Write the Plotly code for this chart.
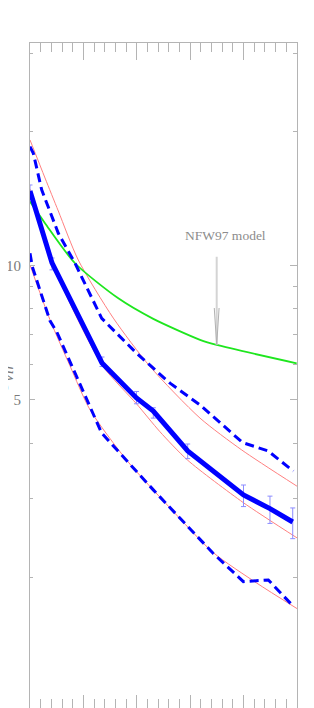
import numpy as np
import plotly.graph_objects as go

# ---------------- data (x = log10 M, y = c_vir) ----------------
med_x = [10.0, 10.412, 11.348, 11.994, 12.309, 12.953, 13.998, 14.494, 14.920]
med_c = [14.72, 10.15, 6.05, 5.05, 4.72, 3.84, 3.06, 2.85, 2.66]
med_hi = [15.18, 10.41, 6.24, 5.22, 4.80, 3.98, 3.22, 3.04, 2.86]
med_lo = [14.27, 9.79, 5.94, 4.90, 4.55, 3.69, 2.88, 2.64, 2.44]

up_x = [10.0, 10.062, 10.219, 10.530, 10.843, 11.343, 11.998, 12.622, 13.184, 13.979, 14.457, 14.931]
up_c = [18.51, 17.89, 14.80, 11.83, 10.13, 7.62, 6.36, 5.45, 4.87, 4.01, 3.84, 3.46]

lo_x = [10.0, 10.043, 10.375, 10.5, 11.343, 12.309, 13.433, 13.996, 14.463, 14.920]
lo_c = [10.67, 9.95, 7.52, 7.11, 4.21, 3.14, 2.26, 1.954, 1.971, 1.726]

mod_up_x = [10.0, 10.281, 10.530, 10.904, 11.560, 12.247, 13.184, 13.964, 15.0]
mod_up_c = [19.16, 15.74, 13.27, 10.30, 7.63, 5.94, 4.55, 3.86, 3.20]

mod_mid_x = [10.0, 10.412, 10.843, 11.373, 11.994, 12.434, 12.953, 13.994, 15.0]
mod_mid_c = [14.87, 10.20, 7.80, 5.93, 4.90, 4.24, 3.66, 2.94, 2.45]

mod_lo_x = [10.0, 10.375, 10.749, 11.124, 11.811, 12.622, 13.433, 14.245, 15.0]
mod_lo_c = [10.04, 7.56, 5.96, 4.75, 3.66, 2.86, 2.27, 1.94, 1.70]

nfw_x = [10.0, 10.281, 10.843, 11.654, 12.309, 13.184, 13.496, 14.994]
nfw_c = [13.93, 12.46, 10.13, 8.45, 7.60, 6.82, 6.64, 6.04]

y_major = [1, 5, 10]
y_major_text = ["1", "5", "10"]
y_minor = [2, 3, 4, 6, 7, 8, 9, 20, 30]

AX = "#b4b4b4"
TXT = "#7a7a7a"
BLUE = "#0000ff"
RED = "#ff8080"
GREEN = "#1ee61e"

fig = go.Figure()

for xs, cs in [(mod_up_x, mod_up_c), (mod_mid_x, mod_mid_c), (mod_lo_x, mod_lo_c)]:
    fig.add_trace(go.Scatter(x=xs, y=cs, mode="lines",
                             line=dict(color=RED, width=1, shape="spline", smoothing=0.7),
                             showlegend=False, hoverinfo="skip"))

fig.add_trace(go.Scatter(x=nfw_x, y=nfw_c, mode="lines",
                         line=dict(color=GREEN, width=1.8, shape="spline", smoothing=0.7),
                         showlegend=False))

fig.add_trace(go.Scatter(x=up_x, y=up_c, mode="lines", line=dict(color=BLUE, width=3, dash="9px,5px"),
                         showlegend=False))
fig.add_trace(go.Scatter(x=lo_x, y=lo_c, mode="lines", line=dict(color=BLUE, width=3, dash="9px,5px"),
                         showlegend=False))

mc = np.array(med_c)
fig.add_trace(go.Scatter(
    x=med_x, y=med_c, mode="lines", line=dict(color=BLUE, width=5),
    error_y=dict(type="data", symmetric=False, array=np.array(med_hi) - mc,
                 arrayminus=mc - np.array(med_lo), color="#8c8cff", thickness=1, width=2.5),
    showlegend=False))

# invisible trace on the mirrored axes
fig.add_trace(go.Scatter(x=[10, 15], y=[2, 2], xaxis="x2", yaxis="y2", mode="lines",
                         line=dict(width=0), showlegend=False, hoverinfo="skip"))

# NFW97 model label + arrow (tip sits on the NFW curve)
tip_x = 13.496
tip_l = float(np.interp(tip_x, nfw_x, np.log10(nfw_c)))
fig.add_trace(go.Scatter(x=[tip_x, tip_x], y=[10 ** tip_l, 10 ** (tip_l + 0.198)], mode="lines",
                         line=dict(color="#d4d4d4", width=2), showlegend=False, hoverinfo="skip"))
fig.add_trace(go.Scatter(x=[tip_x - 0.045, tip_x, tip_x + 0.045],
                         y=[10 ** (tip_l + 0.083), 10 ** tip_l, 10 ** (tip_l + 0.083)], mode="lines",
                         line=dict(color="#b0b0b0", width=1), showlegend=False, hoverinfo="skip"))
fig.add_annotation(x=13.67, y=1.067, xref="x", yref="y", text="NFW97 model", showarrow=False,
                   font=dict(family="Liberation Serif", size=13.5, color="#8c8c8c"))

# cut off "1" label at the bottom edge
fig.add_annotation(x=0, xref="paper", xanchor="right", xshift=-6, y=0, yref="y", yanchor="middle",
                   text="1", showarrow=False, font=dict(family="Liberation Serif", size=15, color=TXT))

# y-axis title, mostly cut off at the left edge as in the reference
fig.add_annotation(x=0, xref="paper", xanchor="center", xshift=-28, y=0.497, yref="paper",
                   yanchor="middle", textangle=-90, showarrow=False,
                   text="<i>c</i><sub><i>vir</i></sub>",
                   font=dict(family="Liberation Serif", size=24, color=TXT))

xcommon = dict(range=[10, 15], tickvals=[10, 11, 12, 13, 14, 15], showticklabels=False,
               ticks="inside", tickcolor=AX, showgrid=False, zeroline=False, automargin=False)
# the page body adds an 8px offset; margins compensate so the plot box sits at x 30..297, y 43..708
fig.update_layout(
    width=306, height=700,
    margin=dict(l=22, r=17, t=35, b=0, autoexpand=False),
    paper_bgcolor="white", plot_bgcolor="white",
    xaxis=dict(**xcommon, ticklen=13, showline=False,
               minor=dict(dtick=0.2, ticks="inside", ticklen=9, tickcolor=AX)),
    xaxis2=dict(**xcommon, ticklen=17, overlaying="x", side="top", matches="x",
                showline=True, linecolor=AX, linewidth=1,
                minor=dict(dtick=0.2, ticks="inside", ticklen=9, tickcolor=AX)),
    yaxis=dict(type="log", range=[0.0073, 1.5], tickvals=y_major, ticktext=y_major_text,
               ticks="inside", ticklen=5, tickcolor=AX, showline=True, linecolor=AX, linewidth=1,
               showgrid=False, zeroline=False, ticklabelstandoff=5, automargin=False,
               tickfont=dict(family="Liberation Serif", size=15, color=TXT),
               minor=dict(tickvals=y_minor, ticks="inside", ticklen=3, tickcolor=AX)),
    yaxis2=dict(type="log", range=[0.0073, 1.5], overlaying="y", side="right", matches="y",
                tickvals=y_major, showticklabels=False, ticks="inside", ticklen=7, tickcolor=AX,
                showline=True, linecolor=AX, linewidth=1, showgrid=False, zeroline=False,
                automargin=False,
                minor=dict(tickvals=y_minor, ticks="inside", ticklen=4, tickcolor=AX)),
)

fig.write_html("out.html")
